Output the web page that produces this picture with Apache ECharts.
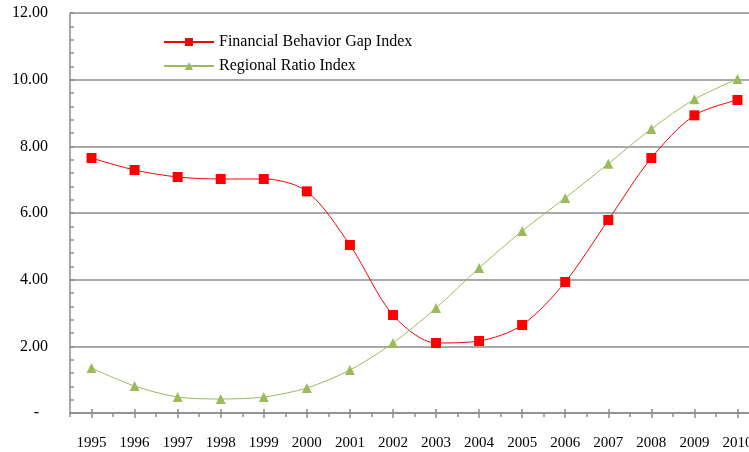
<!DOCTYPE html>
<html>
<head>
<meta charset="utf-8">
<script src="https://cdn.jsdelivr.net/npm/echarts@6/dist/echarts.min.js"></script>
<style>
  html, body { margin: 0; padding: 0; background: #fff; overflow: hidden; }
  #echart { width: 759px; height: 452px; }
</style>
</head>
<body>
<div id="echart"></div>
<script>
const years = ['1995', '1996', '1997', '1998', '1999', '2000', '2001', '2002',
               '2003', '2004', '2005', '2006', '2007', '2008', '2009', '2010'];
const gapIndex = [7.65, 7.29, 7.08, 7.02, 7.02, 6.65, 5.04, 2.94,
                  2.10, 2.16, 2.64, 3.93, 5.79, 7.65, 8.93, 9.39];
const ratioIndex = [1.35, 0.81, 0.48, 0.42, 0.48, 0.75, 1.29, 2.10,
                    3.15, 4.35, 5.46, 6.45, 7.48, 8.52, 9.41, 10.02];

const font = 'Liberation Serif';
const grey = '#8c8c8c';

// extra tick-only axes: Excel draws long crossing ticks at each year
function tickAxis(inside, len) {
  return {
    type: 'category', data: years, boundaryGap: true, position: 'bottom', offset: 0,
    axisLine: { show: false },
    axisTick: { show: true, inside: inside, interval: 0, alignWithLabel: true, length: len,
                lineStyle: { color: grey, width: 1.5 } },
    axisLabel: { show: false }
  };
}

// plot runs past the right edge of the window, like the original
const chart = echarts.init(document.getElementById('echart'));
chart.setOption({
  animation: false,
  grid: { left: 70, right: 0, top: 13, bottom: 39 },
  legend: {
    orient: 'vertical',
    left: 158, top: 29,
    itemWidth: 50, itemHeight: 10, itemGap: 8,
    textStyle: { fontFamily: font, fontSize: 16, color: '#000' },
    data: ['Financial Behavior Gap Index', 'Regional Ratio Index']
  },
  xAxis: [
    {
      type: 'category', data: years, boundaryGap: true,
      axisLine: { show: true, lineStyle: { color: grey, width: 1.5 } },
      axisTick: { show: true, interval: 0, length: 4, lineStyle: { color: grey, width: 1.5 } },
      axisLabel: { interval: 0, margin: 23, fontFamily: font, fontSize: 15, color: '#000' }
    },
    tickAxis(false, 5),
    tickAxis(true, 4)
  ],
  yAxis: {
    type: 'value', min: 0, max: 12, interval: 2,
    axisLine: { show: true, lineStyle: { color: grey, width: 1.5 } },
    axisTick: { show: true, inside: true, length: 4, lineStyle: { color: grey, width: 1.5 } },
    minorTick: { show: true, splitNumber: 5, length: 4, lineStyle: { color: grey, width: 1.5 } },
    splitLine: { lineStyle: { color: grey, width: 1.5 } },
    axisLabel: {
      margin: 22, fontFamily: font, fontSize: 16, color: '#000',
      formatter: v => v === 0 ? '{z|-}' : v.toFixed(2),
      rich: { z: { fontFamily: font, fontSize: 16, color: '#000', padding: [0, 9, 0, 0] } }
    }
  },
  series: [
    {
      name: 'Financial Behavior Gap Index', type: 'line', data: gapIndex,
      smooth: 0.3, symbol: 'rect', symbolSize: 10,
      itemStyle: { color: '#ff0000' }, lineStyle: { color: '#ff0000', width: 1 }
    },
    {
      name: 'Regional Ratio Index', type: 'line', data: ratioIndex,
      smooth: 0.3, symbol: 'triangle', symbolSize: 10,
      itemStyle: { color: '#9bbb59' }, lineStyle: { color: '#9bbb59', width: 1 }
    }
  ]
});
</script>
</body>
</html>
